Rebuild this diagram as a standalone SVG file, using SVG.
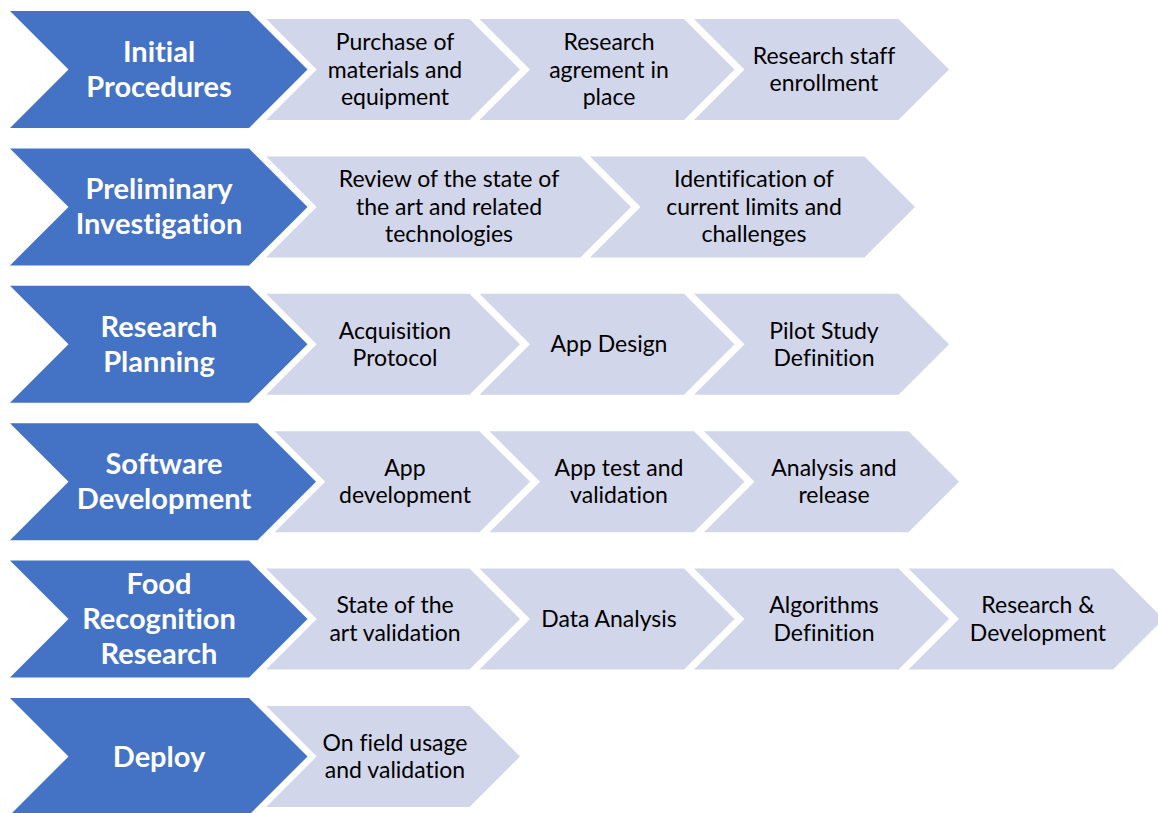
<svg xmlns="http://www.w3.org/2000/svg" width="1158" height="813" viewBox="0 0 1158 813">
  <style>
    .stage { fill: #4472C4; stroke: #FFFFFF; stroke-width: 13; stroke-linejoin: miter; stroke-miterlimit: 10; paint-order: stroke; }
    .step { fill: #D1D6EA; stroke: #FFFFFF; stroke-width: 13; stroke-linejoin: miter; stroke-miterlimit: 10; paint-order: stroke; }
    .stage-label { font-family: Lato, "Open Sans", sans-serif; font-weight: bold; font-size: 29px; fill: #FFFFFF; text-anchor: middle; font-variant-ligatures: none; }
    .step-label { font-family: Lato, "Open Sans", sans-serif; font-size: 23px; fill: #000000; text-anchor: middle; font-variant-ligatures: none; }
  </style>
  <rect width="1158" height="813" fill="#FFFFFF"/>

  <!-- Row 1: Initial Procedures -->
  <g id="row-initial">
    <g id="initial-staff">
      <polygon class="step" points="694,19 898.5,19 949,69.5 898.5,120 694,120 744.5,69.5"/>
      <text class="step-label"><tspan x="824" y="63.75">Research staff</tspan><tspan x="824" y="91.25">enrollment</tspan></text>
    </g>
    <g id="initial-agreement">
      <polygon class="step" points="479.5,19 684,19 734.5,69.5 684,120 479.5,120 530,69.5"/>
      <text class="step-label"><tspan x="609" y="50">Research</tspan><tspan x="609" y="77.5">agrement in</tspan><tspan x="609" y="105">place</tspan></text>
    </g>
    <g id="initial-purchase">
      <polygon class="step" points="265,19 469.5,19 520,69.5 469.5,120 265,120 315.5,69.5"/>
      <text class="step-label"><tspan x="395" y="50">Purchase of</tspan><tspan x="395" y="77.5">materials and</tspan><tspan x="395" y="105">equipment</tspan></text>
    </g>
    <g id="initial-stage">
      <polygon class="stage" points="10,11 249,11 307.5,69.5 249,128 10,128 68.5,69.5"/>
      <text class="stage-label"><tspan x="159" y="62">Initial</tspan><tspan x="159" y="97">Procedures</tspan></text>
    </g>
  </g>

  <!-- Row 2: Preliminary Investigation -->
  <g id="row-preliminary">
    <g id="preliminary-limits">
      <polygon class="step" points="590,156.4 864.5,156.4 915,206.9 864.5,257.4 590,257.4 640.5,206.9"/>
      <text class="step-label"><tspan x="754" y="187.4">Identification of</tspan><tspan x="754" y="214.9">current limits and</tspan><tspan x="754" y="242.4">challenges</tspan></text>
    </g>
    <g id="preliminary-review">
      <polygon class="step" points="265,156.4 580.5,156.4 631,206.9 580.5,257.4 265,257.4 315.5,206.9"/>
      <text class="step-label"><tspan x="449" y="187.4">Review of the state of</tspan><tspan x="449" y="214.9">the art and related</tspan><tspan x="449" y="242.4">technologies</tspan></text>
    </g>
    <g id="preliminary-stage">
      <polygon class="stage" points="10,148.4 249,148.4 307.5,206.9 249,265.4 10,265.4 68.5,206.9"/>
      <text class="stage-label"><tspan x="159" y="199.4">Preliminary</tspan><tspan x="159" y="234.4">Investigation</tspan></text>
    </g>
  </g>

  <!-- Row 3: Research Planning -->
  <g id="row-planning">
    <g id="planning-pilot">
      <polygon class="step" points="694,293.8 898.5,293.8 949,344.3 898.5,394.8 694,394.8 744.5,344.3"/>
      <text class="step-label"><tspan x="824" y="338.55">Pilot Study</tspan><tspan x="824" y="366.05">Definition</tspan></text>
    </g>
    <g id="planning-app">
      <polygon class="step" points="479.5,293.8 684,293.8 734.5,344.3 684,394.8 479.5,394.8 530,344.3"/>
      <text class="step-label"><tspan x="609" y="352.3">App Design</tspan></text>
    </g>
    <g id="planning-protocol">
      <polygon class="step" points="265,293.8 469.5,293.8 520,344.3 469.5,394.8 265,394.8 315.5,344.3"/>
      <text class="step-label"><tspan x="395" y="338.55">Acquisition</tspan><tspan x="395" y="366.05">Protocol</tspan></text>
    </g>
    <g id="planning-stage">
      <polygon class="stage" points="10,285.8 249,285.8 307.5,344.3 249,402.8 10,402.8 68.5,344.3"/>
      <text class="stage-label"><tspan x="159" y="336.8">Research</tspan><tspan x="159" y="371.8">Planning</tspan></text>
    </g>
  </g>

  <!-- Row 4: Software Development -->
  <g id="row-software">
    <g id="software-release">
      <polygon class="step" points="704,431.2 908.5,431.2 959,481.7 908.5,532.2 704,532.2 754.5,481.7"/>
      <text class="step-label"><tspan x="834" y="475.95">Analysis and</tspan><tspan x="834" y="503.45">release</tspan></text>
    </g>
    <g id="software-test">
      <polygon class="step" points="489.5,431.2 694,431.2 744.5,481.7 694,532.2 489.5,532.2 540,481.7"/>
      <text class="step-label"><tspan x="619" y="475.95">App test and</tspan><tspan x="619" y="503.45">validation</tspan></text>
    </g>
    <g id="software-app">
      <polygon class="step" points="274,431.2 479.5,431.2 530,481.7 479.5,532.2 274,532.2 324.5,481.7"/>
      <text class="step-label"><tspan x="405" y="475.95">App</tspan><tspan x="405" y="503.45">development</tspan></text>
    </g>
    <g id="software-stage">
      <polygon class="stage" points="10,423.2 257.5,423.2 316,481.7 257.5,540.2 10,540.2 68.5,481.7"/>
      <text class="stage-label"><tspan x="164" y="474.2">Software</tspan><tspan x="164" y="509.2">Development</tspan></text>
    </g>
  </g>

  <!-- Row 5: Food Recognition Research -->
  <g id="row-food">
    <g id="food-rnd">
      <polygon class="step" points="908.5,568.6 1113,568.6 1163.5,619.1 1113,669.6 908.5,669.6 959,619.1"/>
      <text class="step-label"><tspan x="1038" y="613.35">Research &amp;</tspan><tspan x="1038" y="640.85">Development</tspan></text>
    </g>
    <g id="food-algorithms">
      <polygon class="step" points="694,568.6 898.5,568.6 949,619.1 898.5,669.6 694,669.6 744.5,619.1"/>
      <text class="step-label"><tspan x="824" y="613.35">Algorithms</tspan><tspan x="824" y="640.85">Definition</tspan></text>
    </g>
    <g id="food-data">
      <polygon class="step" points="479.5,568.6 684,568.6 734.5,619.1 684,669.6 479.5,669.6 530,619.1"/>
      <text class="step-label"><tspan x="609" y="627.1">Data Analysis</tspan></text>
    </g>
    <g id="food-validation">
      <polygon class="step" points="265,568.6 469.5,568.6 520,619.1 469.5,669.6 265,669.6 315.5,619.1"/>
      <text class="step-label"><tspan x="395" y="613.35">State of the</tspan><tspan x="395" y="640.85">art validation</tspan></text>
    </g>
    <g id="food-stage">
      <polygon class="stage" points="10,560.6 249,560.6 307.5,619.1 249,677.6 10,677.6 68.5,619.1"/>
      <text class="stage-label"><tspan x="159" y="594.1">Food</tspan><tspan x="159" y="629.1">Recognition</tspan><tspan x="159" y="664.1">Research</tspan></text>
    </g>
  </g>

  <!-- Row 6: Deploy -->
  <g id="row-deploy">
    <g id="deploy-field">
      <polygon class="step" points="265,706 469.5,706 520,756.5 469.5,807 265,807 315.5,756.5"/>
      <text class="step-label"><tspan x="395" y="750.75">On field usage</tspan><tspan x="395" y="778.25">and validation</tspan></text>
    </g>
    <g id="deploy-stage">
      <polygon class="stage" points="10,698 249,698 307.5,756.5 249,815 10,815 68.5,756.5"/>
      <text class="stage-label"><tspan x="159" y="766.5">Deploy</tspan></text>
    </g>
  </g>
</svg>
